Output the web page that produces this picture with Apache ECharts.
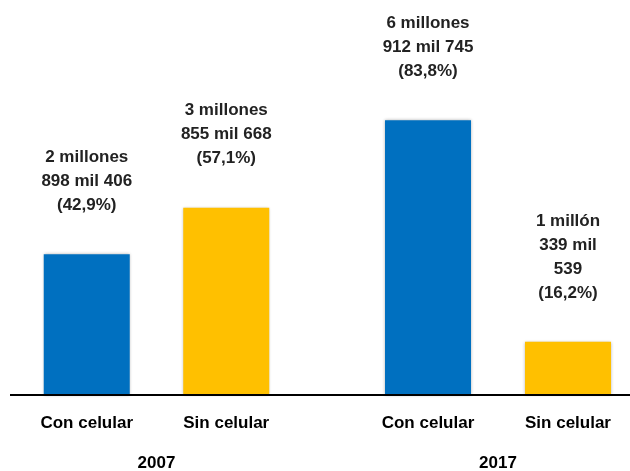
<!DOCTYPE html>
<html>
<head>
<meta charset="utf-8">
<script src="https://cdn.jsdelivr.net/npm/echarts@6/dist/echarts.min.js"></script>
<style>
html,body{margin:0;padding:0;background:#fff;}
#c{width:630px;height:471px;}
</style>
</head>
<body>
<div id="c"></div>
<script>
// Data
var categories = ["Con celular", "Sin celular"];
var years = ["2007", "2017"];
var pct2007 = [42.9, 57.1];
var pct2017 = [83.8, 16.2];
var labels2007 = ["2 millones\n898 mil 406", "3 millones\n855 mil 668"];
var labels2017 = ["6 millones\n912 mil 745", "1 millón\n339 mil\n539"];
var colors = ["#0070C0", "#FFC000"];

var FONT = "'Liberation Sans', Arial, sans-serif";

function fmtPct(v) { return "(" + v.toFixed(1).replace(".", ",") + "%)"; }

function buildData(vals, labels) {
  return vals.map(function (v, i) {
    return {
      value: v,
      name: labels[i] + "\n" + fmtPct(v),
      itemStyle: { color: colors[i] }
    };
  });
}

function xAx(gi, name) {
  return {
    type: 'category', gridIndex: gi, data: categories,
    axisLine: { show: false }, axisTick: { show: false },
    axisLabel: { margin: 20, color: '#000', fontSize: 17, fontWeight: 'bold', fontFamily: FONT },
    name: name, nameLocation: 'middle', nameGap: 60,
    nameTextStyle: { color: '#000', fontSize: 17, fontWeight: 'bold', fontFamily: FONT }
  };
}
function yAx(gi) {
  return { type: 'value', gridIndex: gi, min: 0, max: 100, show: false, splitLine: { show: false } };
}
function ser(gi, vals, labels) {
  return {
    type: 'bar', xAxisIndex: gi, yAxisIndex: gi, barWidth: 86,
    data: buildData(vals, labels),
    itemStyle: { shadowColor: 'rgba(0,0,0,0.3)', shadowBlur: 3 },
    label: {
      show: true, position: 'top', distance: 37,
      formatter: function (p) { return p.name; },
      color: '#222', fontSize: 17, fontWeight: 'bold', fontFamily: FONT, lineHeight: 24, align: 'center'
    }
  };
}

var chart = echarts.init(document.getElementById('c'), null, { renderer: 'canvas' });
chart.setOption({
  animation: false,
  backgroundColor: '#fff',
  grid: [
    { left: 17, width: 279, top: 67, bottom: 76, containLabel: false, outerBoundsMode: 'none' },
    { left: 358, width: 280, top: 67, bottom: 76, containLabel: false, outerBoundsMode: 'none' }
  ],
  xAxis: [xAx(0, years[0]), xAx(1, years[1])],
  yAxis: [yAx(0), yAx(1)],
  series: [ser(0, pct2007, labels2007), ser(1, pct2017, labels2017)],
  graphic: [{
    type: 'line', z: 100,
    shape: { x1: 10, y1: 395, x2: 630, y2: 395 },
    style: { stroke: '#000', lineWidth: 2 }
  }]
});
</script>
</body>
</html>
